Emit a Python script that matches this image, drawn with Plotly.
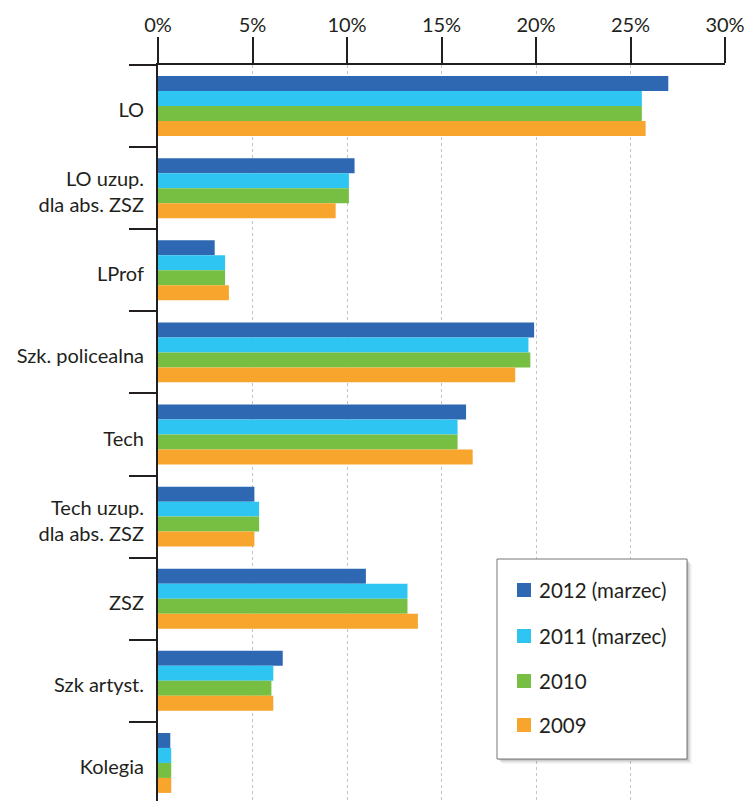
import plotly.graph_objects as go

# Share of students by school type, four survey years
categories = [
    "LO",
    "LO uzup.<br>dla abs. ZSZ",
    "LProf",
    "Szk. policealna",
    "Tech",
    "Tech uzup.<br>dla abs. ZSZ",
    "ZSZ",
    "Szk artyst.",
    "Kolegia",
]

series_names = ["2012 (marzec)", "2011 (marzec)", "2010", "2009"]

values_2012 = [27.0, 10.4, 3.0, 19.9, 16.3, 5.1, 11.0, 6.6, 0.65]
values_2011 = [25.6, 10.1, 3.55, 19.6, 15.85, 5.35, 13.2, 6.1, 0.7]
values_2010 = [25.6, 10.1, 3.55, 19.7, 15.85, 5.35, 13.2, 6.0, 0.7]
values_2009 = [25.8, 9.4, 3.75, 18.9, 16.65, 5.1, 13.75, 6.1, 0.7]

series_values = [values_2012, values_2011, values_2010, values_2009]
series_colors = ["#2f68b2", "#2ec5f3", "#76bf43", "#f8a52d"]

x_ticks = [0, 5, 10, 15, 20, 25, 30]
x_tick_labels = ["0%", "5%", "10%", "15%", "20%", "25%", "30%"]

W, H = 745, 801
M_L, M_R, M_T, M_B = 158, 20, 65, 0
TEXT = "#231f20"
FONT = "Lato"

fig = go.Figure()
for name, vals, col in zip(series_names, series_values, series_colors):
    fig.add_trace(go.Bar(
        x=vals, y=categories, name=name, orientation="h",
        marker=dict(color=col, line=dict(width=0)),
        showlegend=False,
    ))

# pixel -> paper helpers for the hand-built legend box
def px_x(p):
    return (p - M_L) / (W - M_L - M_R)

def px_y(p):
    return (H - M_B - p) / (H - M_T - M_B)

shapes = []
box_l, box_t, box_r, box_b = 497, 559, 687, 759
# soft shadow
for i, op in enumerate([0.10, 0.08, 0.06, 0.04, 0.03]):
    off = i + 1
    shapes.append(dict(
        type="rect", xref="paper", yref="paper",
        x0=px_x(box_l + off), x1=px_x(box_r + off),
        y0=px_y(box_t + off), y1=px_y(box_b + off),
        fillcolor=f"rgba(0,0,0,{op})", line=dict(width=0), layer="above",
    ))
shapes.append(dict(
    type="rect", xref="paper", yref="paper",
    x0=px_x(box_l), x1=px_x(box_r), y0=px_y(box_t), y1=px_y(box_b),
    fillcolor="white", line=dict(color="#777777", width=1), layer="above",
))

annotations = []
item_centers = [590, 636, 681, 725]
for name, col, cy in zip(series_names, series_colors, item_centers):
    shapes.append(dict(
        type="rect", xref="paper", yref="paper",
        x0=px_x(517), x1=px_x(531), y0=px_y(cy - 7), y1=px_y(cy + 7),
        fillcolor=col, line=dict(width=0), layer="above",
    ))
    annotations.append(dict(
        xref="paper", yref="paper", x=px_x(537), y=px_y(cy),
        xanchor="left", yanchor="middle", text=name, showarrow=False,
        font=dict(family=FONT, size=20.5, color=TEXT),
    ))

n = len(categories)
fig.update_layout(
    width=W, height=H,
    margin=dict(l=M_L, r=M_R, t=M_T, b=M_B, pad=0),
    paper_bgcolor="white", plot_bgcolor="white",
    barmode="group", bargap=0.27, bargroupgap=0,
    font=dict(family=FONT, size=20, color=TEXT),
    shapes=shapes, annotations=annotations,
    xaxis=dict(
        side="top", range=[0, 30], tickvals=x_ticks, ticktext=x_tick_labels,
        ticks="outside", ticklen=26, tickwidth=2, tickcolor=TEXT,
        showline=True, linewidth=2, linecolor=TEXT,
        showgrid=True, gridcolor="#c4c4c4", gridwidth=1, griddash="dot",
        zeroline=False, ticklabelstandoff=-3,
        tickfont=dict(family=FONT, size=20, color=TEXT),
        fixedrange=True,
    ),
    yaxis=dict(
        type="category", categoryorder="array", categoryarray=categories,
        range=[n - 0.5 - 3 / 82, -0.5],
        tickson="boundaries", ticks="outside", ticklen=27, tickwidth=2,
        tickcolor=TEXT, showline=True, linewidth=2, linecolor=TEXT,
        showgrid=False, zeroline=False, ticklabelstandoff=8,
        ticklabelshift=-4,
        tickfont=dict(family=FONT, size=20, color=TEXT),
        fixedrange=True,
    ),
)

fig.write_html("out.html")
